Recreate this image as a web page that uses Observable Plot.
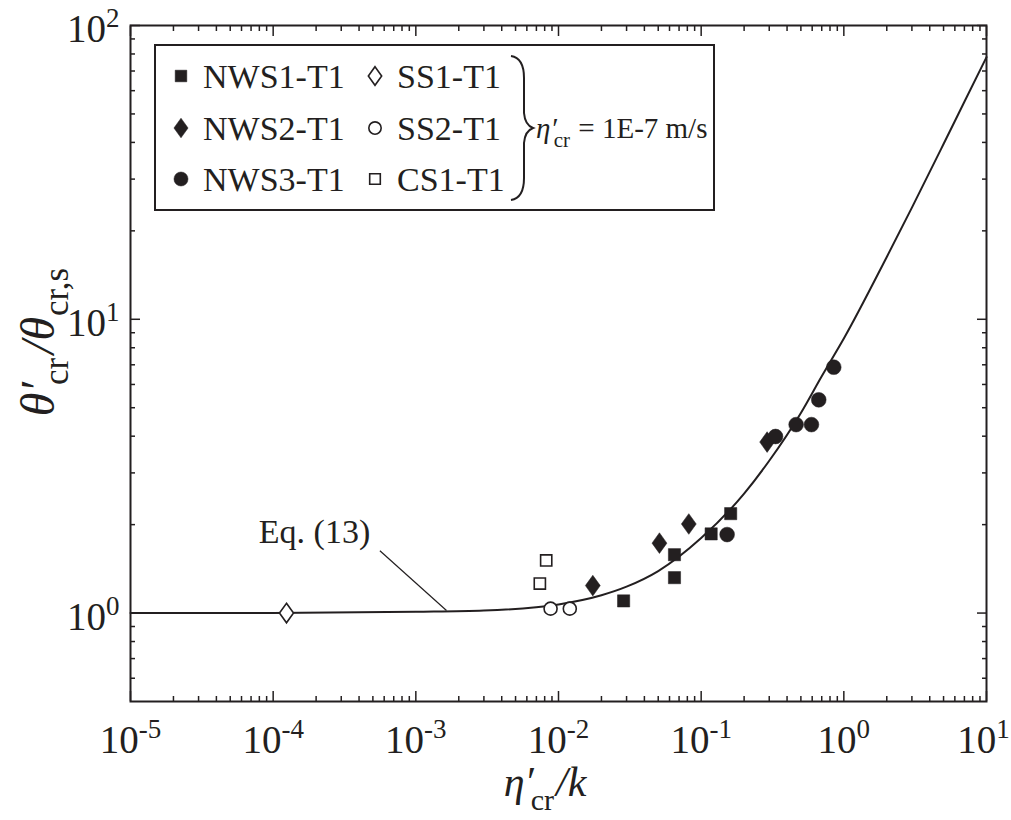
<!DOCTYPE html>
<html>
<head>
<meta charset="utf-8">
<script src="https://cdn.jsdelivr.net/npm/d3@7"></script>
<script src="https://cdn.jsdelivr.net/npm/@observablehq/plot@0.6"></script>
<style>
  body { margin: 0; background: #fff; }
  svg { display: block; }
</style>
</head>
<body>
<div id="chart"></div>
<script>
const ink = "#231f20";

// Eq. (13): theta'_cr / theta_cr,s against eta'_cr / k
const eqX = [1e-5, 1e-4, 1e-3, 3e-3, 0.01, 0.02, 0.03, 0.05, 0.1, 0.2, 0.3, 0.5, 0.7, 1, 2, 3, 5, 7, 10];
const eqY = [1.0, 1.0, 1.01, 1.02, 1.07, 1.15, 1.23, 1.39, 1.8, 2.55, 3.3, 4.8, 6.4, 8.6, 16.3, 24, 39.5, 55, 78];

// Measured points per test series
const nws1X = [0.0286, 0.065, 0.065, 0.1175, 0.161];
const nws1Y = [1.10, 1.32, 1.58, 1.86, 2.18];
const nws2X = [0.0174, 0.051, 0.0819, 0.29];
const nws2Y = [1.24, 1.73, 2.01, 3.82];
const nws3X = [0.152, 0.332, 0.463, 0.593, 0.667, 0.85];
const nws3Y = [1.85, 3.99, 4.38, 4.38, 5.32, 6.87];
const ss1X = [1.24e-4];
const ss1Y = [1.0];
const ss2X = [0.0088, 0.012];
const ss2Y = [1.035, 1.035];
const cs1X = [0.0074, 0.0082];
const cs1Y = [1.26, 1.51];

// Curve annotation: label anchor and leader line end points
const eqLabel = ["Eq. (13)"];
const eqLabelX = [1.95e-4];
const eqLabelY = [1.88];
const leaderX = [5.6e-4, 1.64e-3];
const leaderY = [1.63, 1.02];

// Axis tick values
const majorX = [1e-5, 1e-4, 1e-3, 1e-2, 1e-1, 1e0, 1e1];
const majorY = [1, 10, 100];
const minorX = d3.range(-5, 1).flatMap(e => d3.range(2, 10).map(m => m * 10 ** e));
const minorY = d3.range(-1, 2).flatMap(e => d3.range(2, 10).map(m => m * 10 ** e)).filter(v => v > 0.5 && v < 100);

const pts = (xs, ys) => xs.map((x, i) => ({x, y: ys[i]}));

// diamond taller than it is wide
const tallDiamond = {
  draw(context, size) {
    const a = Math.sqrt(size / 1.44), b = 0.72 * a;
    context.moveTo(0, -a);
    context.lineTo(b, 0);
    context.lineTo(0, a);
    context.lineTo(-b, 0);
    context.closePath();
  }
};

const seriesStyle = [
  {name: "NWS1-T1", data: pts(nws1X, nws1Y), symbol: "square", r: 6.9, filled: true},
  {name: "NWS2-T1", data: pts(nws2X, nws2Y), symbol: tallDiamond, r: 7.0, filled: true},
  {name: "NWS3-T1", data: pts(nws3X, nws3Y), symbol: "circle", r: 7.4, filled: true},
  {name: "SS1-T1", data: pts(ss1X, ss1Y), symbol: tallDiamond, r: 6.6, filled: false},
  {name: "SS2-T1", data: pts(ss2X, ss2Y), symbol: "circle", r: 6.5, filled: false},
  {name: "CS1-T1", data: pts(cs1X, cs1Y), symbol: "square", r: 6.3, filled: false}
];

const blankTicks = {label: null, tickFormat: () => "", color: ink, strokeWidth: 1.5};
const expFormat = d => String(Math.round(Math.log10(d)));

const chart = Plot.plot({
  width: 1011,
  height: 820,
  marginLeft: 130,
  marginRight: 25,
  marginTop: 25,
  marginBottom: 119,
  style: {fontFamily: "'Liberation Serif', 'Times New Roman', serif", background: "#fff", color: ink},
  x: {type: "log", domain: [1e-5, 10]},
  y: {type: "log", domain: [0.5, 100]},
  marks: [
    Plot.axisX(minorX, {anchor: "bottom", tickSize: -5, ...blankTicks}),
    Plot.axisX(minorX, {anchor: "top", tickSize: -5, ...blankTicks}),
    Plot.axisX(majorX, {anchor: "bottom", tickSize: -10, ...blankTicks}),
    Plot.axisX(majorX, {anchor: "top", tickSize: -10, ...blankTicks}),
    Plot.axisY(minorY, {anchor: "left", tickSize: -5, ...blankTicks}),
    Plot.axisY(minorY, {anchor: "right", tickSize: -5, ...blankTicks}),
    Plot.axisY(majorY, {anchor: "left", tickSize: -10, ...blankTicks}),
    Plot.axisY(majorY, {anchor: "right", tickSize: -10, ...blankTicks}),
    Plot.axisX(majorX, {anchor: "bottom", tickSize: 0, tickPadding: 24, label: null, tickFormat: expFormat, fontSize: 39, color: ink}),
    Plot.axisY(majorY, {anchor: "left", tickSize: 0, tickPadding: 11, dy: 4, label: null, tickFormat: expFormat, fontSize: 39, color: ink}),
    Plot.line(pts(eqX, eqY), {x: "x", y: "y", stroke: ink, strokeWidth: 2, curve: "monotone-x"}),
    Plot.link([0], {x1: () => leaderX[0], y1: () => leaderY[0], x2: () => leaderX[1], y2: () => leaderY[1], stroke: ink, strokeWidth: 1.2}),
    Plot.text(eqLabel, {x: eqLabelX, y: eqLabelY, text: d => d, fontSize: 34, fill: ink}),
    ...seriesStyle.map(s => Plot.dot(s.data, {
      x: "x", y: "y", symbol: () => s.symbol, r: s.r,
      fill: s.filled ? ink : "#fff", stroke: ink, strokeWidth: s.filled ? 0.5 : 1.6
    })),
    Plot.frame({stroke: ink, strokeWidth: 2})
  ]
});

document.getElementById("chart").append(chart);
const svg = d3.select(chart);

// tick labels as powers of ten with a raised exponent
svg.selectAll('g[aria-label="x-axis tick label"] text, g[aria-label="y-axis tick label"] text').each(function () {
  const t = d3.select(this);
  const e = t.text();
  if (!e) return;
  t.text(null);
  t.append("tspan").text("10");
  t.append("tspan").attr("dy", -15).attr("font-size", 27).text(e);
  if (e === "1" && this.closest('g[aria-label="x-axis tick label"]')) t.attr("dx", -3);
});

// axis titles
const xt = svg.append("text")
  .attr("x", 545).attr("y", 796)
  .attr("text-anchor", "middle")
  .attr("font-size", 42).attr("fill", ink);
xt.append("tspan").attr("font-style", "italic").text("η′");
xt.append("tspan").attr("font-size", 30).attr("dx", -3).attr("dy", 14).text("cr");
xt.append("tspan").attr("font-style", "italic").attr("dx", 2).attr("dy", -14).text("/k");

const yt = svg.append("text")
  .attr("transform", "translate(54,342) rotate(-90)")
  .attr("text-anchor", "middle")
  .attr("font-size", 48).attr("fill", ink);
yt.append("tspan").attr("font-style", "italic").text("θ′");
yt.append("tspan").attr("font-size", 35).attr("dx", -3).attr("dy", 14).text("cr");
yt.append("tspan").attr("font-style", "italic").attr("dx", 4).attr("dy", -14).text("/θ");
yt.append("tspan").attr("font-size", 35).attr("dx", 1).attr("dy", 14).text("cr,s");

// legend
const lg = svg.append("g").attr("text-anchor", "start");
lg.append("rect").attr("x", 155).attr("y", 45).attr("width", 559).attr("height", 165)
  .attr("fill", "#fff").attr("stroke", ink).attr("stroke-width", 2);
const legendCols = [181, 375];
const legendRows = [76, 128, 179];
const symbolOf = s => s === "square" ? d3.symbolSquare : s === "circle" ? d3.symbolCircle : s;
seriesStyle.forEach((s, i) => {
  const cx = legendCols[Math.floor(i / 3)], cy = legendRows[i % 3];
  const r = s.r * 0.95;
  lg.append("path")
    .attr("transform", `translate(${cx},${cy})`)
    .attr("d", d3.symbol(symbolOf(s.symbol), Math.PI * r * r)())
    .attr("fill", s.filled ? ink : "#fff")
    .attr("stroke", ink).attr("stroke-width", s.filled ? 0.5 : 1.6);
  lg.append("text")
    .attr("x", cx + 22).attr("y", cy).attr("dy", "0.34em")
    .attr("font-size", 34).attr("fill", ink)
    .text(s.name);
});
lg.append("path")
  .attr("d", "M511,56 Q524,58 524,78 L524,113 Q525,125 533,128 Q525,131 524,143 L524,178 Q524,198 511,200")
  .attr("fill", "none").attr("stroke", ink).attr("stroke-width", 2);
const note = lg.append("text").attr("x", 536).attr("y", 128).attr("dy", "0.34em")
  .attr("font-size", 29).attr("fill", ink);
note.append("tspan").attr("font-style", "italic").text("η′");
note.append("tspan").attr("font-size", 21).attr("dx", -3).attr("dy", 9).text("cr");
note.append("tspan").attr("dx", 1).attr("dy", -9).text(" = 1E-7 m/s");
</script>
</body>
</html>
